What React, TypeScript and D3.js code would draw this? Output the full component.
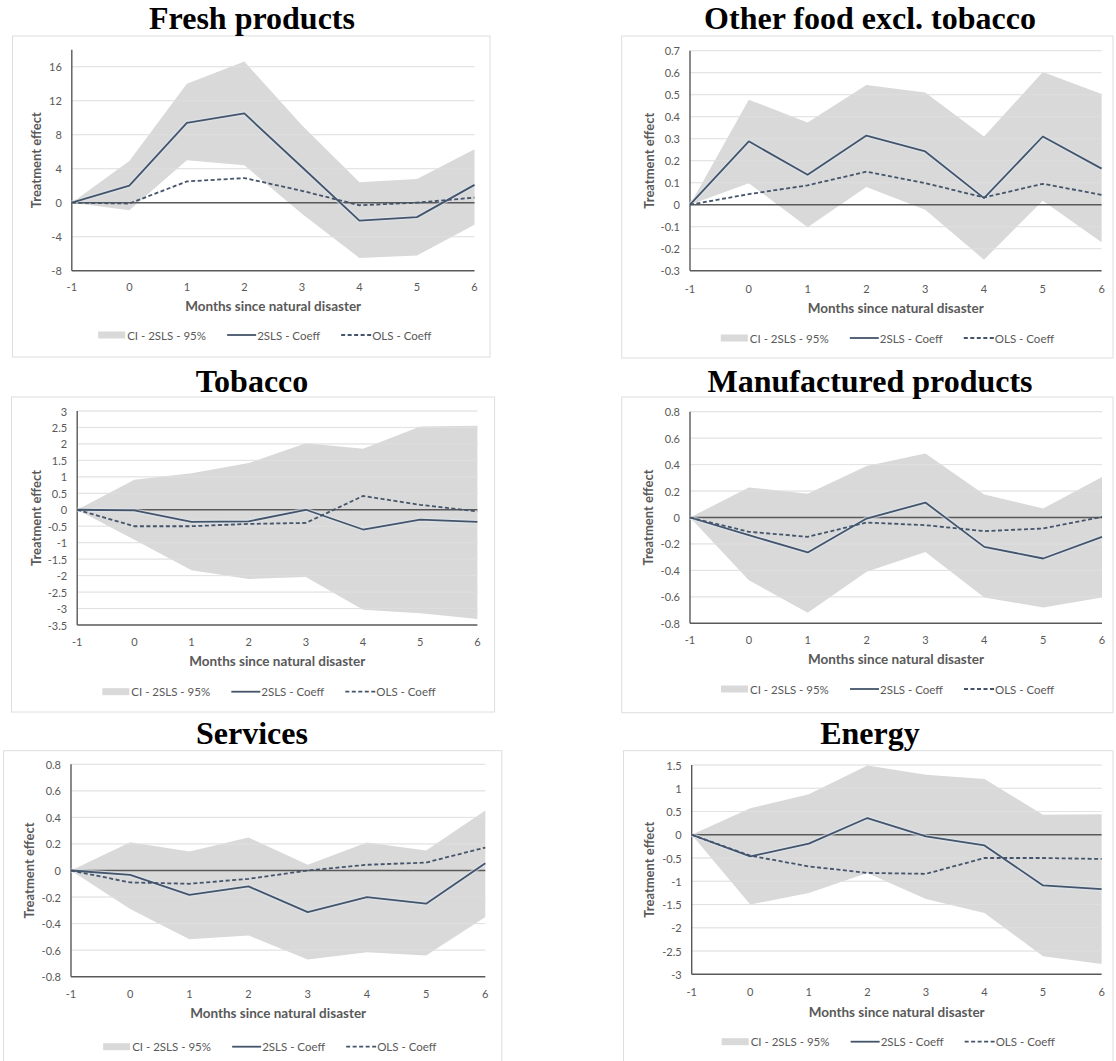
import React from "react";
import * as d3 from "d3";

// ---------- DATA ----------
const months = [-1, 0, 1, 2, 3, 4, 5, 6];
const panelTitles = [
  "Fresh products",
  "Other food excl. tobacco",
  "Tobacco",
  "Manufactured products",
  "Services",
  "Energy",
];
const legendLabels = ["CI - 2SLS - 95%", "2SLS - Coeff", "OLS - Coeff"];
const xAxisTitle = "Months since natural disaster";
const yAxisTitle = "Treatment effect";

// Fresh products
const freshTsls = [0, 2.0, 9.4, 10.5, 4.2, -2.1, -1.7, 2.1];
const freshOls = [0, -0.1, 2.5, 2.9, 1.4, -0.3, 0, 0.6];
const freshUpper = [0, 4.9, 14.0, 16.6, 9.1, 2.4, 2.8, 6.3];
const freshLower = [0, -0.9, 5.0, 4.4, -1.3, -6.5, -6.2, -2.6];
const freshTicks = [-8, -4, 0, 4, 8, 12, 16];

// Other food excl. tobacco
const foodTsls = [0, 0.288, 0.136, 0.314, 0.242, 0.03, 0.31, 0.164];
const foodOls = [0, 0.048, 0.088, 0.15, 0.098, 0.033, 0.095, 0.045];
const foodUpper = [0, 0.477, 0.374, 0.544, 0.51, 0.31, 0.603, 0.503];
const foodLower = [0, 0.098, -0.103, 0.08, -0.023, -0.25, 0.018, -0.171];
const foodTicks = [-0.3, -0.2, -0.1, 0, 0.1, 0.2, 0.3, 0.4, 0.5, 0.6, 0.7];

// Tobacco
const tobTsls = [0, -0.02, -0.37, -0.35, 0, -0.6, -0.3, -0.37];
const tobOls = [0, -0.5, -0.5, -0.43, -0.4, 0.42, 0.15, -0.05];
const tobUpper = [0, 0.91, 1.11, 1.42, 2.02, 1.85, 2.53, 2.55];
const tobLower = [0, -0.91, -1.84, -2.1, -2.04, -3.04, -3.14, -3.32];
const tobTicks = [-3.5, -3, -2.5, -2, -1.5, -1, -0.5, 0, 0.5, 1, 1.5, 2, 2.5, 3];

// Manufactured products
const manTsls = [0, -0.134, -0.264, -0.008, 0.113, -0.222, -0.31, -0.146];
const manOls = [0, -0.108, -0.146, -0.038, -0.058, -0.103, -0.083, 0.005];
const manUpper = [0, 0.227, 0.18, 0.39, 0.484, 0.174, 0.068, 0.307];
const manLower = [0, -0.474, -0.72, -0.41, -0.26, -0.605, -0.68, -0.605];
const manTicks = [-0.8, -0.6, -0.4, -0.2, 0, 0.2, 0.4, 0.6, 0.8];

// Services
const servTsls = [0, -0.033, -0.183, -0.12, -0.314, -0.2, -0.25, 0.055];
const servOls = [0, -0.09, -0.1, -0.063, 0, 0.043, 0.06, 0.173];
const servUpper = [0, 0.213, 0.143, 0.249, 0.043, 0.21, 0.15, 0.452];
const servLower = [0, -0.29, -0.518, -0.49, -0.67, -0.615, -0.64, -0.35];
const servTicks = [-0.8, -0.6, -0.4, -0.2, 0, 0.2, 0.4, 0.6, 0.8];

// Energy
const enTsls = [0, -0.466, -0.19, 0.36, -0.036, -0.23, -1.09, -1.17];
const enOls = [0, -0.45, -0.68, -0.82, -0.84, -0.5, -0.5, -0.52];
const enUpper = [0, 0.57, 0.87, 1.49, 1.29, 1.2, 0.43, 0.44];
const enLower = [0, -1.5, -1.25, -0.82, -1.38, -1.68, -2.61, -2.78];
const enTicks = [-3, -2.5, -2, -1.5, -1, -0.5, 0, 0.5, 1, 1.5];

const panelData = [
  { tsls: freshTsls, ols: freshOls, upper: freshUpper, lower: freshLower, ticks: freshTicks, domain: [-8, 18] },
  { tsls: foodTsls, ols: foodOls, upper: foodUpper, lower: foodLower, ticks: foodTicks, domain: [-0.3, 0.7] },
  { tsls: tobTsls, ols: tobOls, upper: tobUpper, lower: tobLower, ticks: tobTicks, domain: [-3.5, 3] },
  { tsls: manTsls, ols: manOls, upper: manUpper, lower: manLower, ticks: manTicks, domain: [-0.8, 0.8] },
  { tsls: servTsls, ols: servOls, upper: servUpper, lower: servLower, ticks: servTicks, domain: [-0.8, 0.8] },
  { tsls: enTsls, ols: enOls, upper: enUpper, lower: enLower, ticks: enTicks, domain: [-3, 1.5] },
];

// ---------- LAYOUT ----------
const layouts = [
  { box: [12.5, 36, 490, 357], title: [252, 29], x: [71.8, 474.5], y: [49.7, 270.7], xl: 286, at: 306, lg: 335, yt: 36 },
  { box: [621.7, 36, 1113, 358], title: [870, 29], x: [690, 1101.6], y: [50.7, 270.7], xl: 288, at: 308, lg: 338, yt: 648.6 },
  { box: [11.5, 397, 494.6, 712], title: [252, 392], x: [77.2, 477.4], y: [411, 625], xl: 641, at: 661, lg: 691.7, yt: 36 },
  { box: [621.7, 397, 1113, 712.7], title: [870, 392], x: [690, 1102], y: [411.7, 623.3], xl: 639, at: 659, lg: 689, yt: 647.5 },
  { box: [3.6, 750.7, 501.8, 1070], title: [252, 743.5], x: [71, 485.3], y: [764.3, 976.7], xl: 993, at: 1013, lg: 1046.7, yt: 28.7 },
  { box: [623.5, 750.7, 1113, 1070], title: [870, 744], x: [691.7, 1101.6], y: [765, 974.3], xl: 991, at: 1011.7, lg: 1041.7, yt: 648.6 },
];

const SHADE = "#d9d9d9";
const LINE = "#44546a";
const AXIS = "#595959";
const GRID = "#e3e3e3";
const TEXT = "#595959";
const FONT = "Lato, 'Open Sans', sans-serif";

function fmt(v: number) {
  const r = Math.round(v * 10) / 10;
  return String(r);
}

function Panel({ idx }: { idx: number }) {
  const d = panelData[idx];
  const L = layouts[idx];
  const x = d3.scaleLinear().domain([-1, 6]).range(L.x);
  const y = d3.scaleLinear().domain(d.domain).range([L.y[1], L.y[0]]);
  const pts = months.map((m, i) => ({ m, t: d.tsls[i], o: d.ols[i], u: d.upper[i], l: d.lower[i] }));
  const area = d3
    .area<any>()
    .x((p) => x(p.m))
    .y0((p) => y(p.l))
    .y1((p) => y(p.u));
  const lineT = d3
    .line<any>()
    .x((p) => x(p.m))
    .y((p) => y(p.t));
  const lineO = d3
    .line<any>()
    .x((p) => x(p.m))
    .y((p) => y(p.o));
  const x0 = L.x[0];
  const x1 = L.x[1];
  const yBottom = y(d.domain[0]);
  const yTop = y(d.domain[1]);
  const plotMid = (x0 + x1) / 2;
  const lgStart = plotMid - 8 - 167;
  const lgY = L.lg;
  const gridTicks = d.ticks.filter((t) => t !== 0 && Math.abs(t - d.domain[0]) > 1e-9);
  return (
    <g>
      <rect
        x={L.box[0]}
        y={L.box[1]}
        width={L.box[2] - L.box[0]}
        height={L.box[3] - L.box[1]}
        fill="#ffffff"
        stroke="#dedede"
        strokeWidth={1}
      />
      <text
        x={L.title[0]}
        y={L.title[1]}
        textAnchor="middle"
        fontFamily="'Liberation Serif', 'Times New Roman', serif"
        fontWeight="bold"
        fontSize={32}
        fill="#000"
      >
        {panelTitles[idx]}
      </text>
      {gridTicks.map((t) => (
        <line key={"g" + t} x1={x0} x2={x1} y1={y(t)} y2={y(t)} stroke={GRID} strokeWidth={1} />
      ))}
      <path d={area(pts) || ""} fill={SHADE} />
      {gridTicks.map((t) => (
        <line key={"g2" + t} x1={x0} x2={x1} y1={y(t)} y2={y(t)} stroke="#e2e2e2" strokeWidth={1} strokeOpacity={0.6} />
      ))}
      <line x1={x0} x2={x1} y1={y(0)} y2={y(0)} stroke={AXIS} strokeWidth={1.4} />
      <line x1={x0} x2={x0} y1={yTop} y2={yBottom} stroke={AXIS} strokeWidth={1.4} />
      <line x1={x0} x2={x1} y1={yBottom} y2={yBottom} stroke={AXIS} strokeWidth={1.4} />
      <path d={lineT(pts) || ""} fill="none" stroke="#dde6ef" strokeWidth={4.5} strokeOpacity={0.6} />
      <path d={lineO(pts) || ""} fill="none" stroke={LINE} strokeWidth={1.8} strokeDasharray="4,2.5" />
      <path d={lineT(pts) || ""} fill="none" stroke={LINE} strokeWidth={1.8} strokeLinejoin="round" />
      {d.ticks.map((t) => (
        <text
          key={"yt" + t}
          x={x0 - 10}
          y={y(t)}
          textAnchor="end"
          dominantBaseline="central"
          fontFamily={FONT}
          fontSize={11}
          fill={TEXT}
        >
          {fmt(t)}
        </text>
      ))}
      {months.map((m) => (
        <text
          key={"xt" + m}
          x={x(m)}
          y={L.xl}
          textAnchor="middle"
          dominantBaseline="central"
          fontFamily={FONT}
          fontSize={11}
          fill={TEXT}
        >
          {m}
        </text>
      ))}
      <text
        x={plotMid}
        y={L.at}
        textAnchor="middle"
        dominantBaseline="central"
        fontFamily={FONT}
        fontWeight="bold"
        fontSize={13.5}
        fill={TEXT}
      >
        {xAxisTitle}
      </text>
      <text
        transform={`translate(${L.yt},${(yTop + yBottom) / 2}) rotate(-90)`}
        textAnchor="middle"
        dominantBaseline="central"
        fontFamily={FONT}
        fontWeight="bold"
        fontSize={13}
        fill={TEXT}
      >
        {yAxisTitle}
      </text>
      {/* legend */}
      <rect x={lgStart} y={lgY - 3.5} width={27} height={7} fill={SHADE} />
      <text x={lgStart + 29} y={lgY} dominantBaseline="central" fontFamily={FONT} fontSize={11.5} fill={TEXT}>
        {legendLabels[0]}
      </text>
      <line x1={lgStart + 129} x2={lgStart + 158} y1={lgY} y2={lgY} stroke={LINE} strokeWidth={1.8} />
      <text x={lgStart + 159} y={lgY} dominantBaseline="central" fontFamily={FONT} fontSize={11.5} fill={TEXT}>
        {legendLabels[1]}
      </text>
      <line
        x1={lgStart + 243}
        x2={lgStart + 273}
        y1={lgY}
        y2={lgY}
        stroke={LINE}
        strokeWidth={1.8}
        strokeDasharray="4,2.5"
      />
      <text x={lgStart + 274} y={lgY} dominantBaseline="central" fontFamily={FONT} fontSize={11.5} fill={TEXT}>
        {legendLabels[2]}
      </text>
    </g>
  );
}

export default function App() {
  return (
    <svg
      width={1116}
      height={1061}
      style={{ position: "absolute", left: 0, top: 0, background: "#fff" }}
    >
      <rect x={0} y={0} width={1116} height={1061} fill="#fff" />
      {panelData.map((_, i) => (
        <Panel key={i} idx={i} />
      ))}
    </svg>
  );
}
